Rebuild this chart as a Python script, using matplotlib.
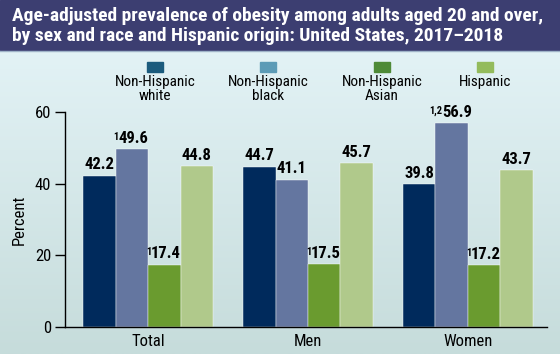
import matplotlib
matplotlib.use("Agg")
import matplotlib.pyplot as plt
import numpy as np
from matplotlib.patches import Rectangle

plt.rcParams['font.family'] = ['Liberation Sans Narrow', 'Roboto Condensed', 'DejaVu Sans Condensed',
                               'Roboto', 'DejaVu Sans']

# data
groups = ["Total", "Men", "Women"]
series = ["Non-Hispanic\nwhite", "Non-Hispanic\nblack", "Non-Hispanic\nAsian", "Hispanic"]
values = [
    [42.2, 44.7, 39.8],
    [49.6, 41.1, 56.9],
    [17.4, 17.5, 17.2],
    [44.8, 45.7, 43.7],
]
# footnote markers shown as superscripts before the values
notes = [
    ["", "", ""],
    ["1", "", "1,2"],
    ["1", "1", "1"],
    ["", "", ""],
]
bar_colors = ["#002a5c", "#6476a0", "#6a9b2f", "#b0c98b"]
key_colors = ["#1b5b7d", "#5c9bb6", "#4e8a37", "#93bb5c"]
yticks = [0, 20, 40, 60]

fig = plt.figure(figsize=(5.6, 3.54), dpi=100)

# background gradient + title banner
bg = fig.add_axes([0, 0, 1, 1], zorder=0)
bg.set_axis_off()
top = np.array([0xe7, 0xf6, 0xfa]) / 255
bot = np.array([0xc6, 0xdc, 0xdb]) / 255
t = np.linspace(0, 1, 256)[:, None]
grad = top * (1 - t) + bot * t
bg.imshow(grad[:, None, :], aspect='auto', extent=[0, 1, 0, 1])
bg.set_xlim(0, 1)
bg.set_ylim(0, 1)
bg.add_patch(Rectangle((0, 1 - 50 / 354), 1, 50 / 354, color="#3c3e71", zorder=2))
bg.plot([0, 1], [1 - 51 / 354] * 2, color="#9fb3c8", lw=1, zorder=2)
fig.text(12 / 560, 1 - 26 / 354, "Age-adjusted prevalence of obesity among adults aged 20 and over,\n"
         "by sex and race and Hispanic origin: United States, 2017\u20132018",
         color="white", fontsize=14, fontweight="bold", va="center", ha="left",
         linespacing=1.12, zorder=3)

# legend drawn by hand
key_x = [155, 268, 382, 485]
for kx, lab, c in zip(key_x, series, key_colors):
    fig.patches.append(Rectangle(((kx - 8) / 560, 1 - 72 / 354), 16 / 560, 10 / 354,
                                 transform=fig.transFigure, color=c, zorder=3))
    fig.text(kx / 560, 1 - 75 / 354, lab, ha="center", va="top", fontsize=11,
             linespacing=1.0, zorder=3)

ax = fig.add_axes([65 / 560, 1 - 327 / 354, 482 / 560, 215 / 354], zorder=1)
ax.patch.set_alpha(0)
x = np.arange(len(groups))
w = 0.203
for i in range(len(series)):
    pos = x + (i - 1.5) * w
    ax.bar(pos, values[i], width=w, color=bar_colors[i], edgecolor="white", linewidth=0.3)
    for p, v, n in zip(pos, values[i], notes[i]):
        dx = 1.2 * len(n)
        lbl = ax.annotate(f"{v:.1f}", xy=(p, v), xytext=(dx, 2.5), textcoords="offset points",
                          ha="center", va="bottom", fontsize=12, fontweight="bold")
        if n:
            ax.annotate(n, xy=(0, 0.92), xycoords=lbl, ha="right", va="top",
                        fontsize=7.5, fontweight="bold")

ax.set_xlim(-0.519, 2.494)
ax.set_ylim(0, 60)
ax.set_yticks(yticks)
ax.set_xticks(x)
ax.set_xticklabels(groups, fontsize=12)
ax.tick_params(axis='x', length=0, pad=5)
ax.tick_params(axis='y', length=7, width=1, labelsize=12, pad=3)
ax.spines['top'].set_visible(False)
ax.spines['right'].set_visible(False)
ax.spines['left'].set_linewidth(1)
ax.spines['bottom'].set_linewidth(1)
ax.set_ylabel("Percent", fontsize=12, labelpad=6)

fig.savefig("out.png", dpi=100)
